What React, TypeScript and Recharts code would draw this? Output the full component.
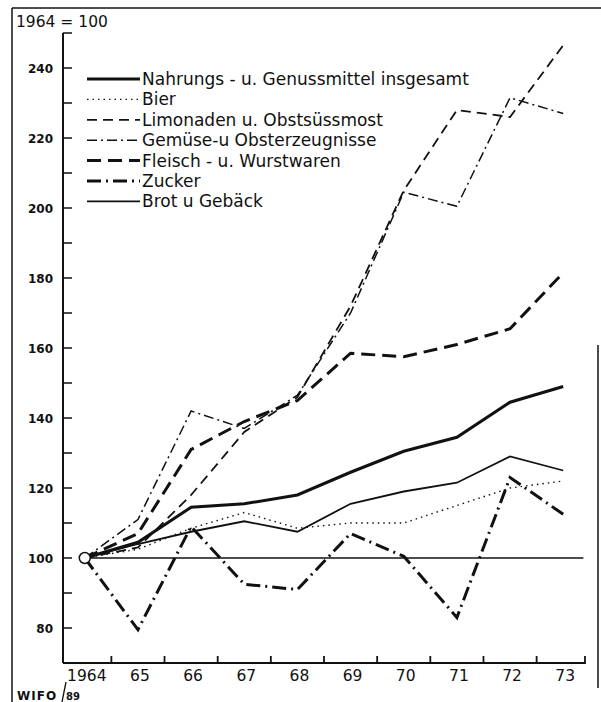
import React from 'react';
import { LineChart, Line, XAxis, YAxis, ReferenceLine, ReferenceDot, Legend } from 'recharts';

// index 1964 = 100
const years = [64, 65, 66, 67, 68, 69, 70, 71, 72, 73];
const nahrung = [100, 104.5, 114.5, 115.5, 118, 124.5, 130.5, 134.5, 144.5, 149];
const bier = [100, 102.5, 108.5, 113, 108.5, 110, 110, 115, 120, 122];
const limonaden = [100, 103, 118, 136, 146, 172, 205, 228, 226, 246.5];
const gemuese = [100, 111, 142, 137, 146.5, 170, 204.5, 200.5, 231.5, 227];
const fleisch = [100, 107, 131, 139, 145, 158.5, 157.5, 161, 165.5, 181.5];
const zucker = [100, 79.5, 109, 92.5, 91, 107, 100.5, 83, 123, 112.5];
const brot = [100, 104, 107.5, 110.5, 107.5, 115.5, 119, 121.5, 129, 125];

const yTicks = [70, 80, 90, 100, 110, 120, 130, 140, 150, 160, 170, 180, 190, 200, 210, 220, 230, 240, 250];
const xTicks = [64, 64.5, 65, 65.5, 66, 66.5, 67, 67.5, 68, 68.5, 69, 69.5, 70, 70.5, 71, 71.5, 72, 72.5, 73, 73.41];

const INK = '#111';
const FONT = '"DejaVu Sans", sans-serif';

const series = [
  { key: 'nahrung', name: 'Nahrungs - u. Genussmittel insgesamt', values: nahrung, w: 3, dash: undefined },
  { key: 'bier', name: 'Bier', values: bier, w: 1.4, dash: '1.5 4' },
  { key: 'limonaden', name: 'Limonaden u. Obstsüssmost', values: limonaden, w: 1.8, dash: '10 6' },
  { key: 'gemuese', name: 'Gemüse-u Obsterzeugnisse', values: gemuese, w: 1.5, dash: '10 4 2 4' },
  { key: 'fleisch', name: 'Fleisch - u. Wurstwaren', values: fleisch, w: 3, dash: '14 7' },
  { key: 'zucker', name: 'Zucker', values: zucker, w: 3, dash: '14 5 2 5' },
  { key: 'brot', name: 'Brot u Gebäck', values: brot, w: 1.8, dash: undefined },
];

const data = years.map((yr, i) => {
  const row: Record<string, number> = { year: yr };
  series.forEach((s) => {
    row[s.key] = s.values[i];
  });
  return row;
});

function YTick(props: any) {
  const { x, y, payload } = props;
  const v = payload.value;
  const labelled = v % 20 === 0 && v >= 80 && v <= 240;
  return (
    <g>
      <line x1={x} y1={y} x2={x + 9} y2={y} stroke={INK} strokeWidth={1.5} />
      {labelled && (
        <text x={x - 10} y={y + 4.5} textAnchor="end" fontSize={12} fontWeight="bold" fontFamily={FONT} fill={INK}>
          {v}
        </text>
      )}
    </g>
  );
}

function XTick(props: any) {
  const { x, y, payload } = props;
  const v = Number(payload.value);
  const major = Math.abs(v - Math.round(v)) < 0.01;
  return (
    <g>
      {major ? (
        <text x={x + 2} y={y + 18} textAnchor="middle" fontSize={15.5} fontFamily={FONT} fill={INK}>
          {v === 64 ? '1964' : String(v)}
        </text>
      ) : (
        <path d={`M${x},${y + 1}V${y - 7}`} stroke={INK} strokeWidth={1.8} fill="none" />
      )}
    </g>
  );
}

function LegendBox() {
  return (
    <svg width={420} height={150}>
      {series.map((s, i) => {
        const y = 13 + i * 20.4;
        return (
          <g key={s.key}>
            <line x1={2} y1={y} x2={55} y2={y} stroke={INK} strokeWidth={s.w} strokeDasharray={s.dash} />
            <text x={57} y={y + 6} fontSize={17} fontFamily={FONT} fill={INK}>
              {s.name}
            </text>
          </g>
        );
      })}
    </svg>
  );
}

export default function App() {
  return (
    <div style={{ position: 'absolute', left: 0, top: 0, width: 601, height: 702, background: '#fff' }}>
      <LineChart width={601} height={702} data={data} margin={{ top: 33, right: 16, bottom: 9, left: 0 }}>
        <XAxis
          dataKey="year"
          type="number"
          domain={[63.59, 73.41]}
          ticks={xTicks}
          interval={0}
          minTickGap={0}
          height={30}
          tickSize={0}
          tickMargin={0}
          tickLine={false}
          axisLine={{ stroke: INK, strokeWidth: 2 }}
          tick={XTick}
        />
        <YAxis
          type="number"
          domain={[70, 250]}
          ticks={yTicks}
          interval={0}
          width={63}
          tickSize={0}
          tickMargin={0}
          tickLine={false}
          axisLine={{ stroke: INK, strokeWidth: 2 }}
          tick={YTick}
        />
        <ReferenceLine
          segment={[
            { x: 64, y: 100 },
            { x: 73.38, y: 100 },
          ]}
          stroke={INK}
          strokeWidth={1.3}
        />
        {series.map((s) => (
          <Line
            key={s.key}
            dataKey={s.key}
            name={s.name}
            type="linear"
            stroke={INK}
            strokeWidth={s.w}
            strokeDasharray={s.dash}
            dot={false}
            activeDot={false}
            isAnimationActive={false}
          />
        ))}
        <ReferenceDot x={64} y={100} r={5.5} fill="#fff" stroke={INK} strokeWidth={1.5} />
        <Legend
          layout="vertical"
          align="center"
          verticalAlign="middle"
          content={() => <LegendBox />}
          wrapperStyle={{ position: 'absolute', left: 85, top: 66, width: 420, height: 150 }}
        />
      </LineChart>
      <svg
        width={601}
        height={702}
        style={{ position: 'absolute', left: 0, top: 0, pointerEvents: 'none' }}
      >
        <line x1={12} y1={8} x2={601} y2={8} stroke={INK} strokeWidth={1.5} />
        <line x1={12} y1={8} x2={12} y2={702} stroke={INK} strokeWidth={1.5} />
        <line x1={598} y1={345} x2={598} y2={688} stroke={INK} strokeWidth={1.5} />
        <text x={16} y={27} fontSize={15.5} fontFamily={FONT} fill={INK}>
          1964 = 100
        </text>
        <text x={17} y={700} fontSize={12} fontWeight="bold" letterSpacing={1} fontFamily={FONT} fill={INK}>
          WIFO
        </text>
        <line x1={66} y1={682} x2={62} y2={702} stroke={INK} strokeWidth={1.3} />
        <text x={66} y={700} fontSize={10} fontWeight="bold" fontFamily={FONT} fill={INK}>
          89
        </text>
      </svg>
    </div>
  );
}
